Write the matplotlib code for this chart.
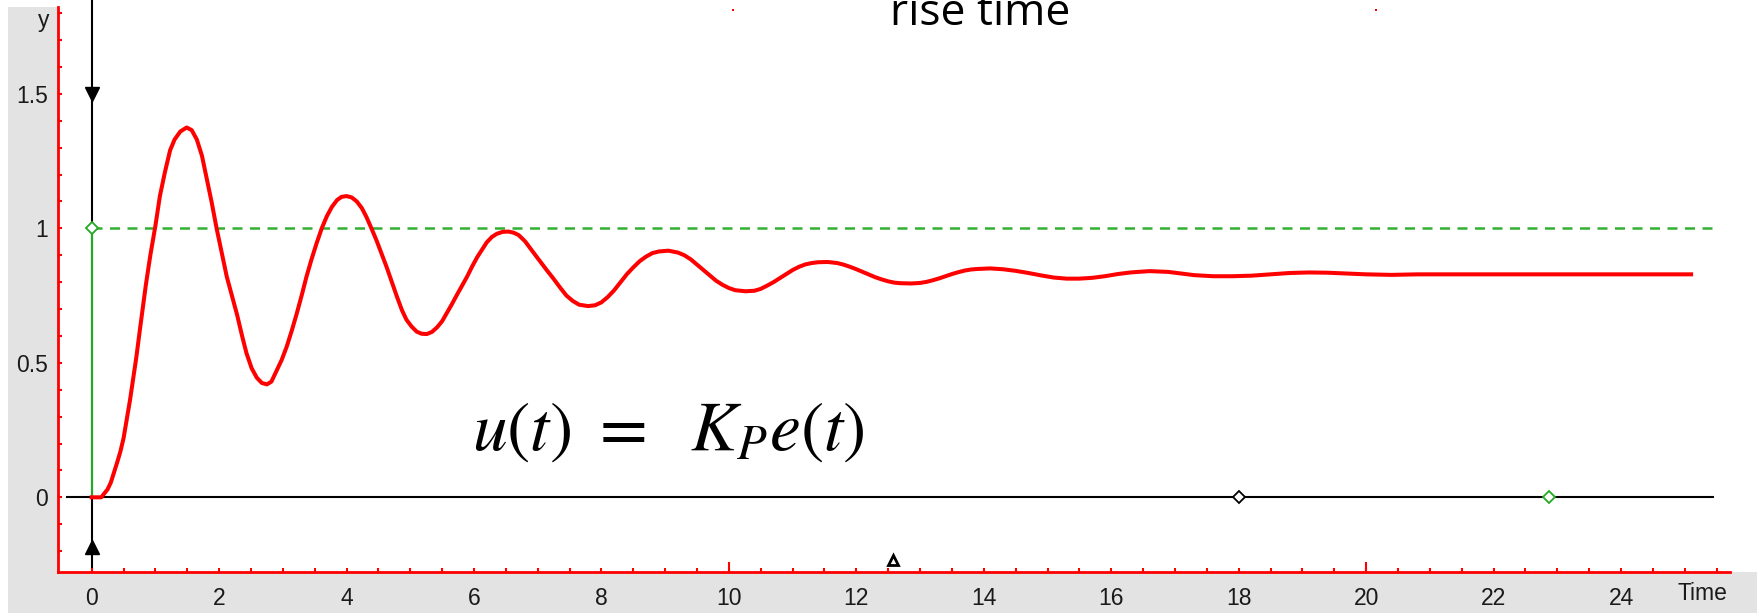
import numpy as np
import matplotlib.pyplot as plt
from matplotlib.patches import Rectangle
from matplotlib.ticker import FixedLocator

plt.rcParams['mathtext.fontset'] = 'stix'

# step response
t = [0.0, 0.15, 0.25, 0.3, 0.4, 0.45, 0.5, 0.6, 0.7, 0.76, 0.85, 0.92, 1.0, 1.07, 1.15,
     1.23, 1.3, 1.39, 1.49, 1.57, 1.65, 1.73, 1.8, 1.88, 1.96, 2.04, 2.12, 2.2, 2.28,
     2.36, 2.43, 2.51, 2.59, 2.67, 2.75, 2.82, 2.9, 2.98, 3.06, 3.14, 3.22, 3.3, 3.37,
     3.45, 3.53, 3.61, 3.69, 3.77, 3.85, 3.92, 4.0, 4.08, 4.16, 4.24, 4.31, 4.39, 4.47,
     4.55, 4.63, 4.71, 4.79, 4.87, 4.94, 5.02, 5.1, 5.18, 5.26, 5.34, 5.42, 5.5, 5.57,
     5.65, 5.73, 5.81, 5.89, 5.97, 6.05, 6.13, 6.2, 6.28, 6.36, 6.45, 6.54, 6.62, 6.7,
     6.8, 6.9, 6.98, 7.06, 7.14, 7.24, 7.35, 7.45, 7.55, 7.65, 7.79, 7.9, 8.0, 8.1, 8.2,
     8.3, 8.4, 8.5, 8.6, 8.7, 8.8, 8.9, 9.05, 9.2, 9.3, 9.4, 9.5, 9.6, 9.7, 9.8, 9.9,
     10.0, 10.1, 10.26, 10.4, 10.5, 10.6, 10.7, 10.8, 10.9, 11.0, 11.1, 11.2, 11.3, 11.4,
     11.55, 11.7, 11.8, 11.9, 12.0, 12.1, 12.2, 12.3, 12.4, 12.5, 12.6, 12.7, 12.86, 13.0,
     13.1, 13.2, 13.3, 13.4, 13.5, 13.6, 13.7, 13.8, 13.9, 14.1, 14.3, 14.5, 14.7, 14.9,
     15.1, 15.3, 15.5, 15.7, 15.9, 16.1, 16.3, 16.6, 16.9, 17.1, 17.3, 17.6, 17.9, 18.2,
     18.5, 18.8, 19.1, 19.4, 19.7, 20.0, 20.4, 20.8, 25.1]
y = [0.0, 0.0, 0.03, 0.055, 0.13, 0.17, 0.22, 0.36, 0.52, 0.63, 0.79, 0.9, 1.01, 1.12, 1.21,
     1.29, 1.33, 1.36, 1.375, 1.365, 1.33, 1.27, 1.19, 1.10, 1.0, 0.91, 0.82, 0.75, 0.68,
     0.6, 0.535, 0.48, 0.445, 0.425, 0.42, 0.43, 0.47, 0.51, 0.56, 0.62, 0.685, 0.755, 0.82,
     0.885, 0.945, 1.0, 1.045, 1.08, 1.105, 1.117, 1.12, 1.115, 1.10, 1.075, 1.043, 1.0, 0.955,
     0.905, 0.855, 0.80, 0.746, 0.695, 0.66, 0.635, 0.616, 0.608, 0.607, 0.615, 0.632, 0.655, 0.684,
     0.717, 0.752, 0.786, 0.82, 0.858, 0.893, 0.922, 0.948, 0.968, 0.98, 0.987, 0.988, 0.984, 0.975,
     0.952, 0.92, 0.895, 0.87, 0.845, 0.815, 0.78, 0.75, 0.73, 0.716, 0.711, 0.714, 0.725, 0.745, 0.77,
     0.8, 0.83, 0.855, 0.878, 0.895, 0.908, 0.914, 0.917, 0.91, 0.9, 0.885, 0.865, 0.845, 0.825, 0.805, 0.79,
     0.778, 0.77, 0.766, 0.768, 0.775, 0.787, 0.8, 0.815, 0.83, 0.845, 0.857, 0.866, 0.871, 0.874,
     0.875, 0.871, 0.865, 0.857, 0.848, 0.838, 0.828, 0.818, 0.81, 0.803, 0.798, 0.796, 0.795, 0.797,
     0.801, 0.807, 0.814, 0.822, 0.83, 0.837, 0.843, 0.847, 0.849, 0.851, 0.848, 0.842, 0.834, 0.825,
     0.817, 0.813, 0.813, 0.816, 0.822, 0.83, 0.836, 0.841, 0.838, 0.832, 0.826, 0.822, 0.822, 0.824,
     0.829, 0.834, 0.836, 0.835, 0.832, 0.829, 0.827, 0.829, 0.829]

setpoint = 1.0
t_end = 25.45
xticks = list(range(0, 25, 2))
yticks = [0, 0.5, 1, 1.5]
ytick_labels = ['0', '0.5', '1', '1.5']

# cursor markers
cursor_down = (0, 1.5)
cursor_up = (0, -0.185)
small_tri = (12.58, -0.234)
black_diamond = (18, 0)
green_diamonds_t = [0, 22.87]
green_diamonds_y = [1, 0]

W, H = 1758, 613
fig = plt.figure(figsize=(W / 100, H / 100), dpi=100)
fig.patch.set_facecolor('white')

gray = '#e3e3e3'
fig.add_artist(Rectangle((8 / W, 0), 50 / W, (H - 7) / H, transform=fig.transFigure,
                         facecolor=gray, edgecolor='none', zorder=-5))
fig.add_artist(Rectangle((8 / W, 0), 1 - 8 / W, 41 / H, transform=fig.transFigure,
                         facecolor=gray, edgecolor='none', zorder=-5))

ax = fig.add_axes([58 / W, 41 / H, 1 - 58 / W, 1 - 41 / H])
ax.set_facecolor('white')
ax.set_xlim(-0.529, 26.15)
ax.set_ylim(-0.2777, 1.849)

red = '#ff0000'
green = '#22aa22'
for s in ['top', 'right']:
    ax.spines[s].set_visible(False)
for s in ['left', 'bottom']:
    ax.spines[s].set_color(red)
    ax.spines[s].set_linewidth(2)
ax.spines['left'].set_bounds(-0.2777, 1.823)
ax.spines['bottom'].set_bounds(-0.529, 25.71)

ax.set_xticks(xticks)
ax.set_xticklabels([str(v) for v in xticks])
ax.set_yticks(yticks)
ax.set_yticklabels(ytick_labels)
ax.xaxis.set_minor_locator(FixedLocator(np.arange(0, 25.6, 0.5)))
ax.yaxis.set_minor_locator(FixedLocator(np.arange(-0.2, 1.85, 0.1)))
ax.tick_params(which='both', direction='in', color=red, width=1.5, length=3)
ax.tick_params(axis='x', pad=11, labelsize=16.5, labelcolor='#1a1a1a')
ax.tick_params(axis='y', pad=7, labelsize=16.5, labelcolor='#1a1a1a')
for lab in ax.get_xticklabels() + ax.get_yticklabels():
    lab.set_family('Liberation Sans')

sec = ax.secondary_xaxis(0)
sec.set_xticks([10, 20])
sec.tick_params(direction='in', length=7, width=1.5, color=red, labelbottom=False)
sec.spines['bottom'].set_visible(False)

# reference lines
ax.axvline(0, ymin=0.008, ymax=1, color='black', lw=1.5, zorder=2)
ax.plot([0, 0], [0, setpoint], color=green, lw=1.5, zorder=3)
ax.plot([-0.39, t_end], [0, 0], color='black', lw=1.5, zorder=2)
ax.plot([0, t_end], [setpoint, setpoint], color='#33b033', lw=1.8, ls=(0, (4, 3)), zorder=2)

ax.plot(t, y, color=red, lw=2.9, zorder=4)

ax.plot(*cursor_down, marker='v', color='black', ms=10, zorder=5)
ax.plot(*cursor_up, marker='^', color='black', ms=10, zorder=5)
ax.plot(*small_tri, marker='^', mfc='white', mec='black', mew=2, ms=7, zorder=5)
ax.plot(*black_diamond, marker='D', mfc='white', mec='black', mew=1.3, ms=6, zorder=5)
ax.plot(green_diamonds_t, green_diamonds_y, ls='none', marker='D', mfc='white',
        mec=green, mew=1.3, ms=6, zorder=5)

ax.text(9.05, 0.25, r'$u(t)\ =\ \ K_P e(t)$', fontsize=50, ha='center', va='center',
        color='black')

fig.text(44 / W, 1 - 20 / H, 'y', fontsize=16.5, family='Liberation Sans', ha='center',
         va='center', color='#1a1a1a')
fig.text(1702 / W, 1 - 594 / H, 'Time', fontsize=16.5, family='Liberation Sans', ha='center',
         va='center', color='#1a1a1a')
# clipped at the top edge, as in the source
fig.text(980 / W, 1 - 25 / H, 'rise time', fontsize=32, family='Open Sans', ha='center',
         va='baseline', color='black')

for px in [732, 1375]:
    fig.add_artist(Rectangle((px / W, 1 - 11 / H), 2 / W, 2 / H, transform=fig.transFigure,
                             facecolor=red, edgecolor='none', zorder=10))

fig.savefig('out.png', dpi=100)
